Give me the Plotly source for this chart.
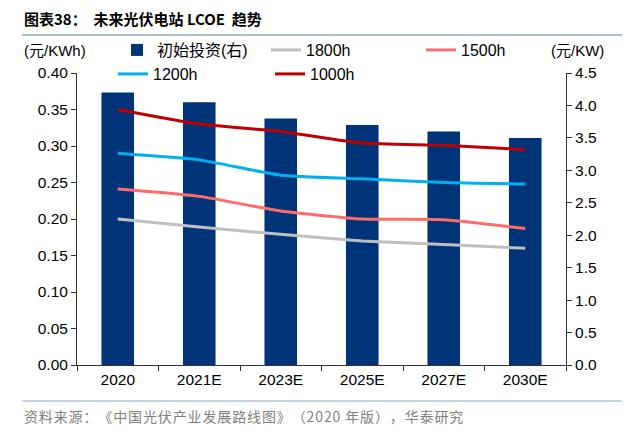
import plotly.graph_objects as go

categories = ["2020", "2021E", "2023E", "2025E", "2027E", "2030E"]
invest = [4.2, 4.05, 3.8, 3.7, 3.6, 3.5]          # 元/KW (right axis)
h1800 = [0.200, 0.189, 0.179, 0.170, 0.165, 0.160]
h1500 = [0.241, 0.231, 0.211, 0.200, 0.199, 0.187]
h1200 = [0.290, 0.281, 0.260, 0.255, 0.250, 0.248]
h1000 = [0.350, 0.330, 0.320, 0.304, 0.301, 0.295]

W, H = 641, 439
L, R, T, B = 77, 566, 73, 365


def px(x):
    return (x - L) / (R - L)


def py(y):
    return (B - y) / (B - T)


FONT = "Liberation Sans, Arial, sans-serif"
CJK = "Noto Sans CJK SC"

fig = go.Figure()
fig.add_trace(go.Bar(x=categories, y=invest, name="初始投资(右)", marker_color="#003478",
                     marker_line_width=0, yaxis="y", legend="legend"))
line_specs = [("1800h", h1800, "#BFBFBF", "legend2"),
              ("1500h", h1500, "#FF6B6B", "legend3"),
              ("1200h", h1200, "#00B0F0", "legend4"),
              ("1000h", h1000, "#C00000", "legend5")]
for name, vals, col, lg in line_specs:
    fig.add_trace(go.Scatter(x=categories, y=vals, name=name, mode="lines",
                             line=dict(color=col, width=3, shape="spline", smoothing=0.5),
                             yaxis="y2", legend=lg))

def leg(x, y):
    return dict(x=px(x), y=py(y), xanchor="left", yanchor="middle", orientation="h",
                bgcolor="rgba(0,0,0,0)", font=dict(family=FONT + ", " + CJK, size=16, color="#000"),
                itemwidth=30, tracegroupgap=0)

TICKFONT = dict(family=FONT, size=15.5, color="#000")
fig.update_layout(
    width=W, height=H,
    margin=dict(l=L, r=W - R, t=T, b=H - B),
    paper_bgcolor="white", plot_bgcolor="white",
    bargap=0.6,
    showlegend=True,
    legend=leg(117, 50),
    legend2=leg(266, 50),
    legend3=leg(421, 50),
    legend4=leg(113, 74),
    legend5=leg(270, 74),
    xaxis=dict(type="category", showline=True, linecolor="#333", linewidth=1,
               ticks="outside", tickson="boundaries", ticklen=5, tickcolor="#333",
               tickfont=TICKFONT, showgrid=False),
    yaxis=dict(side="right", range=[0, 4.5], dtick=0.5, tickformat=".1f",
               showline=True, linecolor="#333", linewidth=1, ticks="outside", ticklen=5,
               tickcolor="#333", showgrid=False, zeroline=False, tickfont=TICKFONT),
    yaxis2=dict(side="left", overlaying="y", range=[0, 0.4], dtick=0.05, tickformat=".2f",
                showline=True, linecolor="#333", linewidth=1, ticks="outside", ticklen=5,
                tickcolor="#333", showgrid=False, zeroline=False, tickfont=TICKFONT),
)

source = "资料来源：《中国光伏产业发展路线图》（2020 年版），华泰研究"
source_spaced = "\u200a".join(source)

annotations = [
    dict(text="<b>图表38：  未来光伏电站 LCOE  趋势</b>", x=px(22), y=py(18), xanchor="left",
         yanchor="middle", font=dict(family=CJK, size=15, color="#000")),
    dict(text="(元/KWh)", x=px(22), y=py(50), xanchor="left", yanchor="middle",
         font=dict(family=FONT + ", " + CJK, size=15, color="#000")),
    dict(text="(元/KW)", x=px(606), y=py(50), xanchor="right", yanchor="middle",
         font=dict(family=FONT + ", " + CJK, size=15, color="#000")),
    dict(text=source_spaced, x=px(22), y=py(416),
         xanchor="left", yanchor="middle", font=dict(family=CJK, size=14, color="#808080")),
]
for a in annotations:
    a.update(xref="paper", yref="paper", showarrow=False)
fig.update_layout(annotations=annotations)

fig.add_shape(type="line", xref="paper", yref="paper", x0=px(22), x1=px(622), y0=py(35), y1=py(35),
              line=dict(color="#8DA6C6", width=1.5))
fig.add_shape(type="line", xref="paper", yref="paper", x0=px(22), x1=px(622), y0=py(401), y1=py(401),
              line=dict(color="#8DA6C6", width=1.2))

fig.write_html("out.html", config={"displayModeBar": False},
               post_script="document.body.style.margin='0';")
